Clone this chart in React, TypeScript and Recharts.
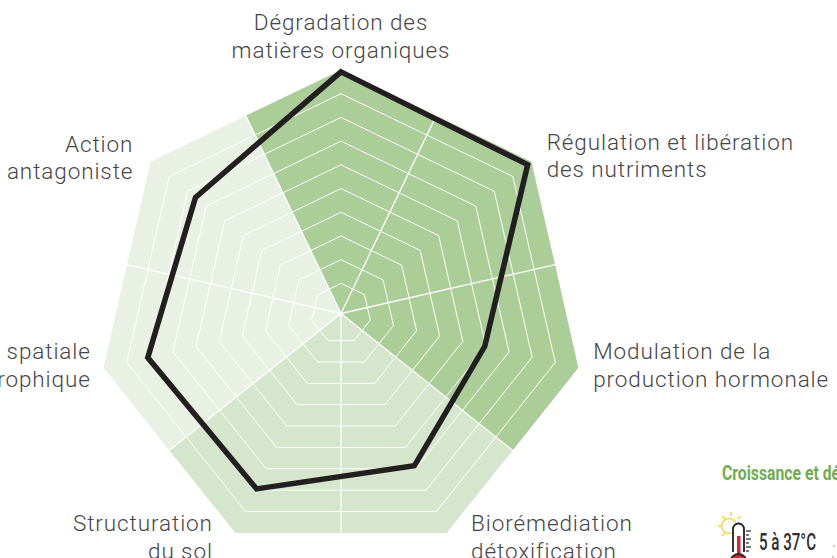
import { RadarChart, Radar, PolarGrid, PolarAngleAxis, PolarRadiusAxis } from "recharts";

const criteria = ["c0", "c1", "c2", "c3", "c4", "c5", "c6"];
const criteriaLabels: Record<string, string[]> = {
  c0: ["Dégradation des", "matières organiques"],
  c1: ["Régulation et libération", "des nutriments"],
  c2: ["Modulation de la", "production hormonale"],
  c3: ["Biorémediation", "détoxification"],
  c4: ["Structuration", "du sol"],
  c5: ["spatiale", "rophique"],
  c6: ["Action", "antagoniste"],
};

// the black profile, one value per criterion
const profileValues = [9.92, 9.8, 5.95, 6.86, 7.94, 8.09, 7.58];

// background sectors need 14 slots: the 7 corners and the 7 edge middles between them
const slots = ["c0", "s0", "c1", "s1", "c2", "s2", "c3", "s3", "c4", "s4", "c5", "s5", "c6", "s6"];
const darkSector = [10, 8.99, 10, 8.99, 10, 8.99, -0.27, -0.27, -0.27, -0.27, -0.27, -0.27, -0.27, 8.99];
const midSector = [-0.27, -0.27, -0.27, -0.27, -0.27, 8.99, 10, 8.99, 10, 8.99, -0.27, -0.27, -0.27, -0.27];
const lightSector = [-0.27, -0.27, -0.27, -0.27, -0.27, -0.27, -0.27, -0.27, -0.27, 8.99, 10, 8.99, 10, 8.99];

const ringLevels = [1, 2, 3, 4, 5, 6, 7, 8, 9];
const domainMin = -0.27;
const domainMax = 10;

const cornerAngles = [90, 38.57, -12.86, -64.29, -115.71, -167.14, -218.57];
const spokeAngles = [64.29, 12.86, -38.57, -90, -141.43, -192.86, -244.29];

const sectorData = slots.map((slot, i) => ({
  slot,
  dark: darkSector[i],
  mid: midSector[i],
  light: lightSector[i],
}));
const profileData = criteria.map((id, i) => ({ id, profile: profileValues[i] }));

const OUTER = 243.5;
const ringRadii = ringLevels.map((v) => (OUTER * (v - domainMin)) / (domainMax - domainMin));
const spokeRadius = (OUTER * (8.99 - domainMin)) / (domainMax - domainMin);

// label placement relative to the tick position
const labelPlacement: Record<string, { dx: number; dy: number; anchor: string }> = {
  c0: { dx: 0, dy: -32, anchor: "middle" },
  c1: { dx: 9, dy: -7, anchor: "start" },
  c2: { dx: 7, dy: -10, anchor: "start" },
  c3: { dx: 21, dy: -9, anchor: "start" },
  c4: { dx: -19, dy: -9, anchor: "end" },
  c5: { dx: -5, dy: -10, anchor: "end" },
  c6: { dx: -11, dy: -5, anchor: "end" },
};

function CriterionTick({ x, y, payload }: any) {
  const lines = criteriaLabels[payload.value];
  if (!lines) return null;
  const place = labelPlacement[payload.value];
  return (
    <text
      x={x + place.dx}
      y={y + place.dy}
      textAnchor={place.anchor as any}
      fontFamily="Roboto, sans-serif"
      fontSize={22.5}
      fontWeight={300}
      fill="#464648"
      letterSpacing={0.9}
    >
      {lines.map((line, i) => (
        <tspan key={line} x={x + place.dx} dy={i === 0 ? 0 : 27.5}>
          {line}
        </tspan>
      ))}
    </text>
  );
}

function SideNote() {
  return (
    <svg width={837} height={558} style={{ position: "absolute", left: 0, top: 0 }}>
      <text
        x={722}
        y={480}
        fontFamily="Roboto, sans-serif"
        fontWeight={700}
        fontSize={20}
        fill="#6fae4e"
        textLength={118}
        lengthAdjust="spacingAndGlyphs"
      >
        Croissance et dé
      </text>
      {/* sun */}
      <circle cx={729} cy={526} r={7.5} fill="none" stroke="#f8d64e" strokeWidth={1.6} />
      <g stroke="#f8d64e" strokeWidth={1.6}>
        <line x1={718} y1={526} x2={722} y2={526} />
        <line x1={731} y1={512} x2={731} y2={516} />
        <line x1={722} y1={516} x2={725} y2={519} />
        <line x1={741} y1={516} x2={738} y2={519} />
        <line x1={722} y1={536} x2={725} y2={533} />
      </g>
      {/* thermometer */}
      <path d="M733 552 V529 a5.5 5.5 0 0 1 11 0 V552" fill="#fff" stroke="#231f20" strokeWidth={1.8} />
      <rect x={737} y={536} width={3.5} height={22} fill="#d9272e" />
      <circle cx={738.5} cy={562} r={8} fill="#d9272e" stroke="#231f20" strokeWidth={1.8} />
      <g stroke="#231f20" strokeWidth={1.2}>
        <line x1={746} y1={531} x2={751} y2={531} />
        <line x1={746} y1={535} x2={749} y2={535} />
        <line x1={746} y1={539} x2={751} y2={539} />
        <line x1={746} y1={543} x2={749} y2={543} />
        <line x1={746} y1={547} x2={751} y2={547} />
        <line x1={746} y1={551} x2={749} y2={551} />
      </g>
      <text
        x={759}
        y={550}
        fontFamily="Roboto, sans-serif"
        fontWeight={500}
        fontSize={23}
        fill="#2f2f2f"
        textLength={57}
        lengthAdjust="spacingAndGlyphs"
      >
        5 à 37°C
      </text>
      <circle cx={834} cy={546} r={1} fill="#f2a795" />
      <circle cx={833} cy={557} r={1} fill="#f2a795" />
    </svg>
  );
}

const chartProps = {
  width: 837,
  height: 558,
  cx: 341,
  cy: 313.5,
  outerRadius: OUTER,
  margin: { top: 0, right: 0, bottom: 0, left: 0 },
};

export default function App() {
  return (
    <div style={{ position: "absolute", left: 0, top: 0, width: 837, height: 558, overflow: "hidden", background: "#fff" }}>
      <div style={{ position: "absolute", left: 0, top: 0 }}>
        <RadarChart {...chartProps} data={sectorData}>
          <PolarRadiusAxis domain={[domainMin, domainMax]} tick={false} axisLine={false} allowDataOverflow />
          <PolarAngleAxis dataKey="slot" tick={false} tickLine={false} axisLine={false} />
          <Radar dataKey="light" stroke="none" fill="#e9f1e5" fillOpacity={1} isAnimationActive={false} />
          <Radar dataKey="mid" stroke="none" fill="#d5e6cc" fillOpacity={1} isAnimationActive={false} />
          <Radar dataKey="dark" stroke="none" fill="#abce98" fillOpacity={1} isAnimationActive={false} />
        </RadarChart>
      </div>
      <div style={{ position: "absolute", left: 0, top: 0 }}>
        <RadarChart {...chartProps} data={profileData}>
          <PolarGrid
            gridType="polygon"
            radialLines={false}
            polarAngles={cornerAngles}
            polarRadius={ringRadii}
            stroke="#ffffff"
            strokeWidth={1}
          />
          <PolarGrid
            gridType="polygon"
            polarAngles={spokeAngles}
            polarRadius={[]}
            outerRadius={spokeRadius}
            stroke="#ffffff"
            strokeWidth={1.3}
          />
          <PolarRadiusAxis domain={[domainMin, domainMax]} tick={false} axisLine={false} allowDataOverflow />
          <PolarAngleAxis dataKey="id" tick={<CriterionTick />} tickLine={false} axisLine={false} />
          <Radar
            dataKey="profile"
            stroke="#231f20"
            strokeWidth={5.5}
            fill="none"
            isAnimationActive={false}
          />
        </RadarChart>
      </div>
      <SideNote />
    </div>
  );
}
